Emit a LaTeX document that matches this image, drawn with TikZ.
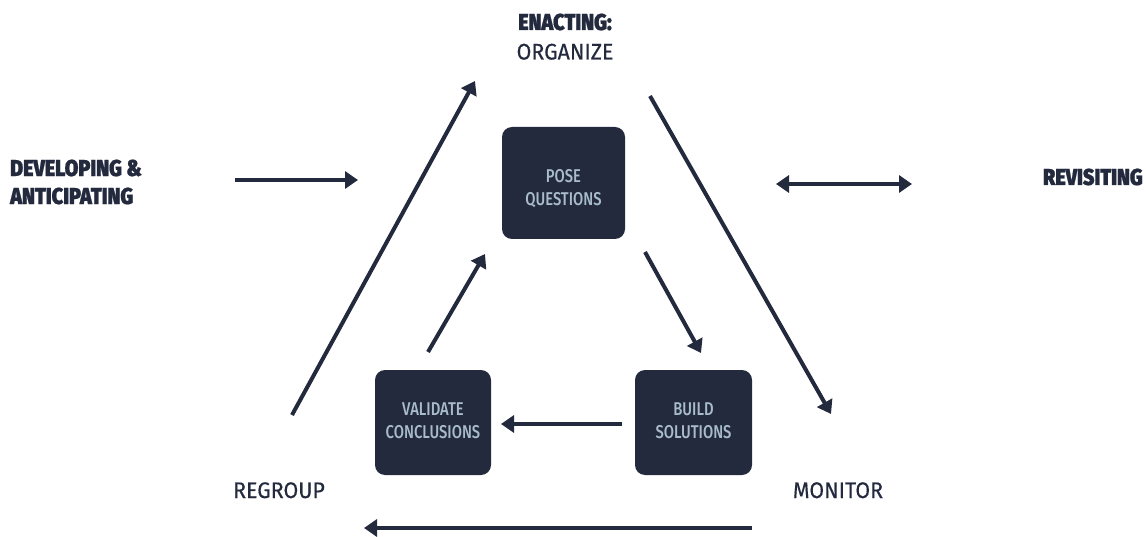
\documentclass[tikz,border=0pt]{standalone}
\usepackage{fontspec}
\setmainfont{Fira Sans}[FakeStretch=0.95,FakeBold=0.4]
\newfontfamily\boxfont{Fira Sans}[FakeStretch=0.8,UprightFont=* Medium]
\newfontfamily\headfont{Fira Sans}[FakeStretch=0.86,FakeBold=0.8,UprightFont=* Black,BoldFont=* Black]
\usetikzlibrary{arrows.meta}
\definecolor{navy}{HTML}{232A3E}
\definecolor{boxtext}{HTML}{A9BCCD}
\tikzset{
  flow/.style={draw=navy,line width=4pt,-{Triangle[length=13pt,width=17pt]}},
  both/.style={draw=navy,line width=4pt,{Triangle[length=13pt,width=17pt]}-{Triangle[length=13pt,width=17pt]}},
  stepbox/.style={fill=navy,rounded corners=10pt,text=boxtext,align=center,font=\boxfont\fontsize{18.5}{22.5}\selectfont,inner sep=0pt,text depth=0pt},
  head/.style={text=navy,font=\headfont\fontsize{23}{28}\selectfont,inner sep=0pt},
  lbl/.style={text=navy,font=\fontsize{22.5}{28}\selectfont,inner sep=0pt}
}
\begin{document}
\begin{tikzpicture}[x=1pt,y=-1pt]
\useasboundingbox (0,0) rectangle (1146,537);
% boxes
\node[stepbox,minimum width=123pt,minimum height=112pt,text height=45pt] (pose) at (563.5,183) {POSE\\QUESTIONS};
\node[stepbox,minimum width=116pt,minimum height=105pt,text height=31pt] (valid) at (433,422.5) {VALIDATE\\CONCLUSIONS};
\node[stepbox,minimum width=117pt,minimum height=105pt,text height=31pt] (build) at (693.5,422.5) {BUILD\\SOLUTIONS};
% labels
\node[head,anchor=base] (enact) at (565,30) {ENACTING:};
\node[lbl,anchor=base] (org) at (565,59.5) {ORGANIZE};
\node[head,anchor=west,align=left] (dev) at (10,182) {DEVELOPING \&\\ANTICIPATING};
\node[head,anchor=base east] (rev) at (1143,185) {REVISITING};
\node[lbl,anchor=base] (regroup) at (279,498) {REGROUP};
\node[lbl,anchor=base] (monitor) at (838,498) {MONITOR};
% coordinates for free arrows
\coordinate (a1s) at (235,180); \coordinate (a1e) at (358,180);
\coordinate (a2s) at (776,184); \coordinate (a2e) at (912,184);
\coordinate (ls) at (292,415); \coordinate (le) at (475,81);
\coordinate (rs) at (650,96); \coordinate (re) at (831,414);
\coordinate (bs) at (752,528); \coordinate (be) at (364,528);
\coordinate (bv1) at (622,424); \coordinate (bv2) at (501,424);
\coordinate (vp1) at (428,352); \coordinate (vp2) at (485,254);
\coordinate (pb1) at (645,252); \coordinate (pb2) at (701,353);
% arrows
\draw[flow] (a1s) -- (a1e);
\draw[both] (a2s) -- (a2e);
\draw[flow] (ls) -- (le);
\draw[flow] (rs) -- (re);
\draw[flow] (bs) -- (be);
\draw[flow] (bv1) -- (bv2);
\draw[flow] (vp1) -- (vp2);
\draw[flow] (pb1) -- (pb2);
\end{tikzpicture}
\end{document}
